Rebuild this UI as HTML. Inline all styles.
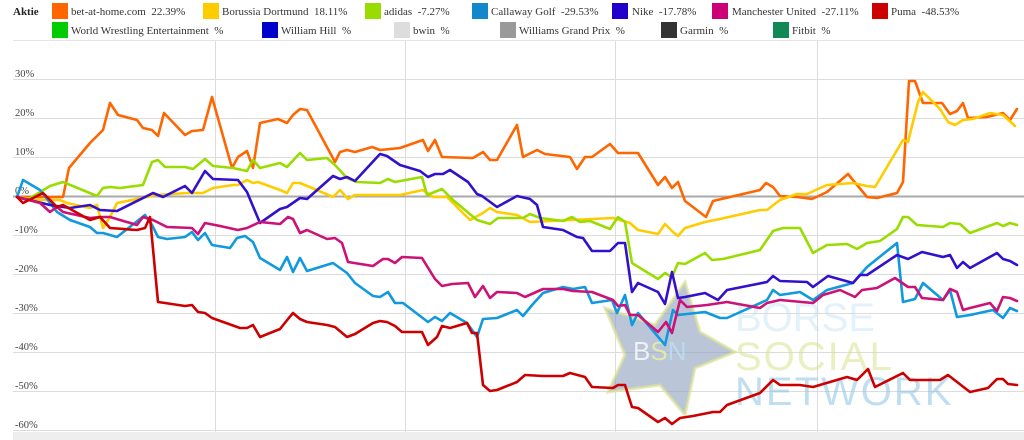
<!DOCTYPE html>
<html><head><meta charset="utf-8"><style>
body{margin:0;background:#fff;width:1024px;height:440px;overflow:hidden}
svg{display:block;font-family:"Liberation Serif",serif}
.lg text{white-space:pre}
</style></head><body>
<svg width="1024" height="440" viewBox="0 0 1024 440" xmlns="http://www.w3.org/2000/svg" xml:space="preserve">
<g class="lg" font-size="11" fill="#333">
<text x="13" y="15" font-weight="bold" fill="#222">Aktie</text>
<rect x="52" y="3" width="16" height="16" fill="#ff6600"/><text x="71" y="15">bet-at-home.com  22.39%</text>
<rect x="203" y="3" width="16" height="16" fill="#ffcc00"/><text x="222" y="15">Borussia Dortmund  18.11%</text>
<rect x="365" y="3" width="16" height="16" fill="#99dd00"/><text x="384" y="15">adidas  -7.27%</text>
<rect x="472" y="3" width="16" height="16" fill="#1188cc"/><text x="491" y="15">Callaway Golf  -29.53%</text>
<rect x="612" y="3" width="16" height="16" fill="#2200cc"/><text x="632" y="15">Nike  -17.78%</text>
<rect x="712" y="3" width="16" height="16" fill="#cc0077"/><text x="732" y="15">Manchester United  -27.11%</text>
<rect x="872" y="3" width="16" height="16" fill="#cc0000"/><text x="891" y="15">Puma  -48.53%</text>
<rect x="52" y="22" width="16" height="16" fill="#00cc00"/><text x="71" y="34">World Wrestling Entertainment  %</text>
<rect x="262" y="22" width="16" height="16" fill="#0000cc"/><text x="281" y="34">William Hill  %</text>
<rect x="394" y="22" width="16" height="16" fill="#dddddd"/><text x="413" y="34">bwin  %</text>
<rect x="500" y="22" width="16" height="16" fill="#999999"/><text x="519" y="34">Williams Grand Prix  %</text>
<rect x="661" y="22" width="16" height="16" fill="#333333"/><text x="680" y="34">Garmin  %</text>
<rect x="773" y="22" width="16" height="16" fill="#118855"/><text x="792" y="34">Fitbit  %</text>
</g>
<line x1="13" y1="40.5" x2="1024" y2="40.5" stroke="#e4e4e4"/>
<rect x="13" y="432" width="1011" height="8" fill="#eeeeee"/>
<g stroke="#dcdcdc" stroke-width="1">
<line x1="215.5" y1="41" x2="215.5" y2="432"/><line x1="405.5" y1="41" x2="405.5" y2="432"/>
<line x1="615.5" y1="41" x2="615.5" y2="432"/><line x1="817.5" y1="41" x2="817.5" y2="432"/>
<line x1="13" y1="79.5" x2="1024" y2="79.5"/><line x1="13" y1="118.5" x2="1024" y2="118.5"/>
<line x1="13" y1="157.5" x2="1024" y2="157.5"/><line x1="13" y1="235.5" x2="1024" y2="235.5"/>
<line x1="13" y1="274.5" x2="1024" y2="274.5"/><line x1="13" y1="313.5" x2="1024" y2="313.5"/>
<line x1="13" y1="352.5" x2="1024" y2="352.5"/><line x1="13" y1="391.5" x2="1024" y2="391.5"/>
<line x1="13" y1="430.5" x2="1024" y2="430.5"/>
</g>
<line x1="13" y1="196.5" x2="1024" y2="196.5" stroke="#aaaaaa" stroke-width="2"/>
<g font-size="10.5" fill="#444">
<text x="15" y="77">30%</text><text x="15" y="116">20%</text><text x="15" y="155">10%</text>
<text x="15" y="194">0%</text><text x="15" y="233">-10%</text><text x="15" y="272">-20%</text>
<text x="15" y="311">-30%</text><text x="15" y="350">-40%</text><text x="15" y="389">-50%</text>
<text x="15" y="428">-60%</text>
</g>
<polygon points="685,282 700,332 735,352 695,368 685,415 660,385 608,392 625,355 605,308 655,325" fill="rgba(140,158,190,0.6)" stroke="rgba(220,225,150,0.7)" stroke-width="3"/>
<g font-family="Liberation Sans, sans-serif">
<text x="633" y="360" font-size="26" fill="rgba(255,255,255,0.75)">B<tspan fill="rgba(230,235,170,0.9)">S</tspan><tspan fill="rgba(190,220,240,0.9)">N</tspan></text>
<text x="735" y="331" font-size="40" fill="rgba(190,225,245,0.45)">BORSE</text>
<text x="735" y="370" font-size="40" fill="rgba(215,225,140,0.55)" letter-spacing="2">SOCIAL</text>
<text x="735" y="405" font-size="40" fill="rgba(140,195,225,0.55)" letter-spacing="2">NETWORK</text>
</g>
<g fill="none" stroke-width="2.6" stroke-linejoin="round" stroke-linecap="round">
<polyline stroke="#ff6600" points="17,197 63,197 69,168 90,143 103,130 110,103 118,115 137,120 143,128 152,130 158,136 164,113 185,135 192,131 203,130 212,97 232,168 238,157 247,151 253,168 260,123 278,119 287,123 293,115 300,109 307,110 335,162 340,152 347,150 355,152 372,147 380,150 400,148 423,140 428,151 435,140 442,157 473,158 483,152 490,160 497,160 517,125 523,157 537,150 545,154 570,157 577,169 585,157 592,157 610,144 618,153 638,153 658,185 665,177 672,188 678,182 685,201 706,217 713,201 760,190 766,183 773,187 780,196 797,197 812,199 827,192 848,174 867,197 877,198 897,193 903,182 909,81 915,81 923,103 942,103 950,114 957,111 963,103 968,118 987,117 1003,113 1010,120 1017,109"/>
<polyline stroke="#ffcc00" points="17,197 40,200 60,200 67,203 90,208 97,205 103,228 110,217 117,203 157,195 187,193 203,193 213,188 233,185 238,185 247,180 253,183 258,182 280,190 287,193 293,183 300,183 312,188 333,197 340,190 348,199 355,195 400,195 423,190 433,197 447,197 470,220 483,213 490,208 497,212 517,215 530,222 613,218 630,223 638,230 658,234 665,224 673,232 678,236 685,228 705,222 720,219 760,210 767,210 780,200 797,194 807,194 827,185 853,183 867,186 875,187 887,167 903,140 908,142 918,102 923,92 940,109 948,122 955,125 963,120 973,119 990,113 1003,115 1015,126"/>
<polyline stroke="#99dd00" points="17,197 27,200 50,186 63,182 97,196 103,188 110,187 120,188 143,185 152,162 158,160 165,167 185,167 193,169 205,159 213,166 233,168 247,171 253,160 260,168 280,163 287,167 300,153 307,160 327,158 335,165 347,178 357,182 380,183 388,179 395,182 422,177 427,195 442,189 453,200 477,220 490,224 498,218 523,218 530,214 540,218 563,221 572,217 580,222 590,221 610,229 618,217 625,222 632,263 658,279 665,273 672,277 678,263 685,264 705,253 712,260 723,259 760,250 773,231 783,228 800,228 813,253 827,245 847,244 857,249 867,243 880,241 897,229 903,217 908,217 917,225 943,227 950,223 960,224 970,233 997,223 1003,226 1010,223 1017,225"/>
<polyline stroke="#1199dd" points="17,197 23,180 40,190 57,212 70,220 90,227 97,233 103,233 117,237 145,215 152,225 158,237 167,239 185,237 192,232 198,240 205,233 212,245 230,248 237,238 245,236 253,242 260,258 280,270 287,257 293,272 300,258 307,271 333,263 347,273 355,283 373,296 380,297 388,292 395,303 403,303 428,322 435,317 442,321 450,313 467,323 477,337 483,319 497,318 517,310 523,316 533,304 543,293 563,287 573,289 585,287 592,303 612,300 617,313 625,295 632,325 638,313 665,345 673,310 678,315 705,312 720,318 727,318 767,300 773,290 780,295 800,292 813,300 827,290 853,283 867,267 897,243 903,302 915,299 923,283 943,300 950,290 957,317 970,315 993,310 1003,318 1010,308 1017,311"/>
<polyline stroke="#3311cc" points="17,197 50,205 70,208 90,205 100,210 117,211 153,193 163,197 185,186 192,193 205,171 213,179 238,180 247,192 260,223 280,209 287,207 300,198 307,199 333,176 340,179 347,177 355,181 380,154 387,156 400,165 420,171 428,177 435,174 443,174 450,170 468,182 477,194 482,196 497,207 517,196 530,199 537,205 543,227 563,230 577,237 583,238 592,251 610,251 618,243 625,243 632,292 638,283 658,292 665,304 672,272 678,298 685,297 705,293 718,300 727,290 767,282 773,276 780,281 807,282 813,287 828,276 853,283 860,275 867,275 897,255 908,259 922,252 943,257 950,255 957,268 963,262 970,268 997,253 1003,259 1010,261 1017,265"/>
<polyline stroke="#cc1177" points="17,197 40,203 50,212 57,207 63,212 90,218 100,217 110,217 137,225 143,217 153,220 167,227 192,228 198,234 205,223 220,226 238,230 247,228 260,222 280,224 288,217 293,219 300,233 307,230 327,239 335,238 342,243 348,262 373,266 383,259 388,259 395,263 402,257 422,258 435,279 442,286 452,284 468,283 475,297 483,286 490,298 497,292 517,293 525,297 543,289 563,289 573,291 592,292 613,300 618,306 625,305 630,315 638,315 658,332 666,322 672,333 680,300 687,307 707,305 727,302 760,308 767,303 780,300 813,303 823,295 840,290 855,297 862,290 877,288 895,278 908,287 915,287 922,298 943,300 950,289 957,292 963,310 970,308 990,303 997,311 1003,297 1010,298 1017,301"/>
<polyline stroke="#cc0000" points="17,197 23,203 43,193 57,207 63,205 90,220 100,217 110,228 137,230 145,228 150,217 158,302 165,303 185,306 192,305 198,312 205,313 212,318 240,328 247,328 253,325 260,337 280,329 288,319 293,313 300,319 307,322 327,325 335,327 347,337 355,334 373,323 380,321 387,322 395,326 402,332 422,332 428,345 437,337 442,326 450,328 467,323 472,333 477,333 483,385 490,391 497,390 517,382 525,375 543,376 563,376 570,373 585,377 592,387 613,388 618,385 625,385 632,407 638,408 658,422 665,418 672,424 680,418 693,416 713,412 720,412 727,405 760,393 773,380 780,385 800,385 813,387 847,377 857,380 868,369 875,387 903,373 910,380 940,380 948,375 970,392 988,388 997,379 1003,379 1008,384 1017,385"/>
</g>
</svg>
</body></html>
